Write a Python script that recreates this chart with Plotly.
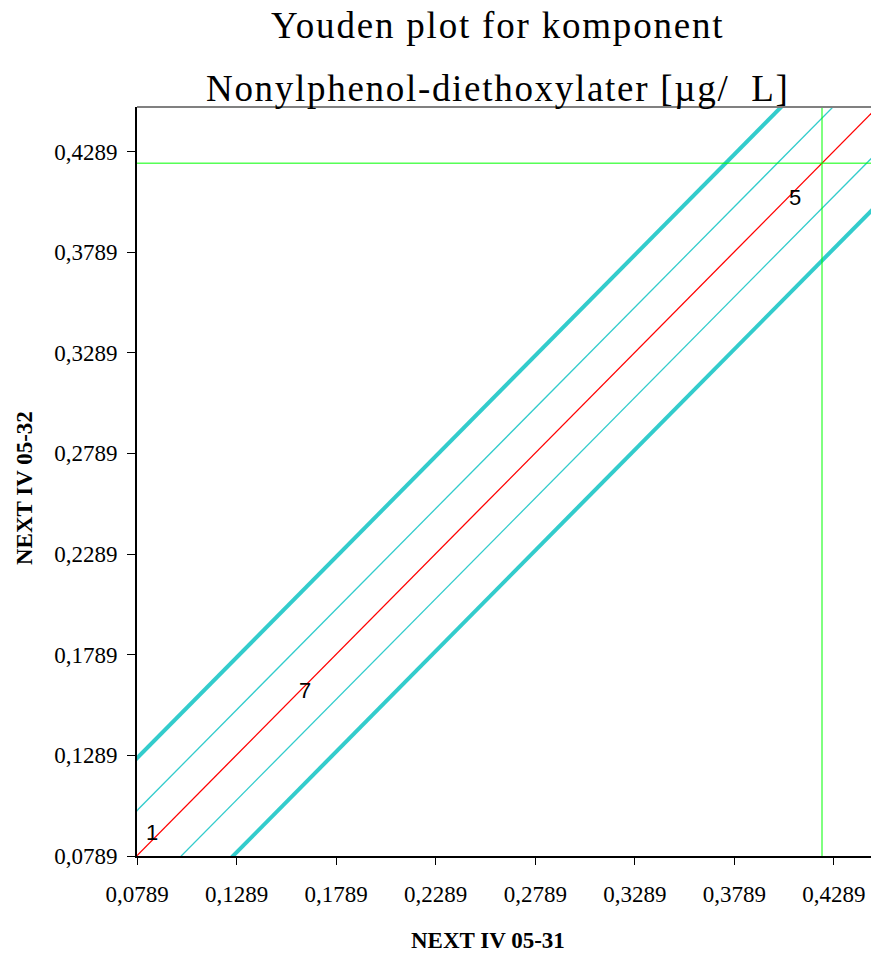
import plotly.graph_objects as go

# ---- data ----
lab_ids = ["1", "7", "5"]
x_vals = [0.0863, 0.1633, 0.4093]      # NEXT IV 05-31
y_vals = [0.0908, 0.1613, 0.4059]      # NEXT IV 05-32
median_x = 0.4229
median_y = 0.4231
inner_offset = 0.0224                  # thin cyan lines
outer_offset = 0.0484                  # thick cyan lines
tick_vals = [0.0789, 0.1289, 0.1789, 0.2289, 0.2789, 0.3289, 0.3789, 0.4289]
tick_text = ["0,0789", "0,1289", "0,1789", "0,2289", "0,2789", "0,3289", "0,3789", "0,4289"]
x_range = [0.0789, 0.4475]
y_range = [0.0789, 0.4510]

W, H = 871, 955
ML, MR, MT, MB = 137, 0, 107, 99

fig = go.Figure()

d = median_y - median_x
lo, hi = 0.0, 0.6


def diag(offset, color, width):
    fig.add_trace(go.Scatter(
        x=[lo, hi], y=[lo + d + offset, hi + d + offset],
        mode="lines", line=dict(color=color, width=width),
        hoverinfo="skip", showlegend=False))


diag(outer_offset, "#33CCCC", 4)
diag(-outer_offset, "#33CCCC", 4)
diag(inner_offset, "#33CCCC", 1.3)
diag(-inner_offset, "#33CCCC", 1.3)
diag(0.0, "#FF0000", 1.3)

# median lines
fig.add_trace(go.Scatter(x=[median_x, median_x], y=[lo, hi], mode="lines",
                         line=dict(color="#00FF00", width=1), hoverinfo="skip", showlegend=False))
fig.add_trace(go.Scatter(x=[lo, hi], y=[median_y, median_y], mode="lines",
                         line=dict(color="#00FF00", width=1), hoverinfo="skip", showlegend=False))

# lab labels (placed at data coordinates)
for lab, xv, yv in zip(lab_ids, x_vals, y_vals):
    fig.add_annotation(x=xv, y=yv, xref="x", yref="y", text=lab, showarrow=False,
                       xanchor="center", yanchor="middle",
                       font=dict(family="Liberation Sans, Arial", size=22, color="black"))

serif = "Liberation Serif, Times New Roman, serif"

fig.update_layout(
    width=W, height=H, autosize=False,
    margin=dict(l=ML, r=MR, t=MT, b=MB, pad=0),
    paper_bgcolor="white", plot_bgcolor="white",
    showlegend=False,
    xaxis=dict(range=x_range, tickmode="array", tickvals=tick_vals, ticktext=tick_text,
               showgrid=False, zeroline=False, showline=True, linecolor="black", linewidth=2,
               ticks="outside", ticklen=7, tickwidth=1, tickcolor="black",
               ticklabelstandoff=9,
               tickfont=dict(family=serif, size=23, color="black")),
    yaxis=dict(range=y_range, tickmode="array", tickvals=tick_vals, ticktext=tick_text,
               showgrid=False, zeroline=False, showline=True, linecolor="black", linewidth=2,
               ticks="outside", ticklen=8, tickwidth=1, tickcolor="black",
               ticklabelstandoff=5,
               tickfont=dict(family=serif, size=23, color="black")),
)

pw = W - ML - MR
ph = H - MT - MB


def px_to_paper_x(p):
    return (p - ML) / pw


def px_to_paper_y(p):
    return (H - MB - p) / ph


fig.add_shape(type="line", xref="paper", yref="paper", x0=0, x1=1, y0=1, y1=1,
              line=dict(color="#808080", width=2))

fig.add_annotation(text='<span style="letter-spacing:1.8px">Youden plot for komponent</span>',
                   xref="paper", yref="paper",
                   x=px_to_paper_x(497), y=px_to_paper_y(25), xanchor="center", yanchor="middle",
                   showarrow=False, font=dict(family=serif, size=37, color="black"))
fig.add_annotation(text='<span style="letter-spacing:1.7px">Nonylphenol-diethoxylater [µg/  L]</span>',
                   xref="paper", yref="paper",
                   x=px_to_paper_x(498), y=px_to_paper_y(89), xanchor="center", yanchor="middle",
                   showarrow=False, font=dict(family=serif, size=37, color="black"))
fig.add_annotation(text="<b>NEXT IV 05-31</b>", xref="paper", yref="paper",
                   x=px_to_paper_x(488), y=px_to_paper_y(940), xanchor="center", yanchor="middle",
                   showarrow=False, font=dict(family=serif, size=23, color="black"))
fig.add_annotation(text="<b>NEXT IV 05-32</b>", xref="paper", yref="paper",
                   x=px_to_paper_x(24), y=px_to_paper_y(488), xanchor="center", yanchor="middle",
                   textangle=-90,
                   showarrow=False, font=dict(family=serif, size=23, color="black"))

fig.write_html("out.html", config={"displayModeBar": False},
               post_script="document.body.style.margin='0';document.body.style.overflow='hidden';")
